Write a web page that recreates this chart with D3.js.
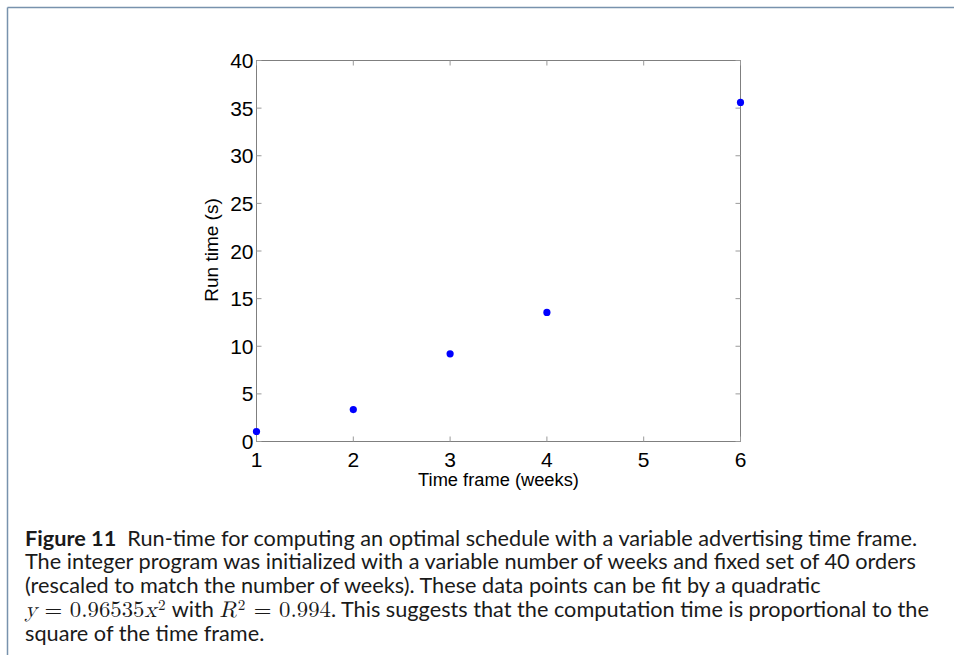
<!DOCTYPE html>
<html><head><meta charset="utf-8">
<script src="https://cdn.jsdelivr.net/npm/d3@7"></script>
<style>
html,body{margin:0;padding:0;background:#fff;}
svg{display:block;}
</style></head>
<body>
<svg id="c" width="954" height="655"></svg>
<script>
const weeks = [1, 2, 3, 4, 6];
const runTime = [1.05, 3.35, 9.2, 13.55, 35.6];
const xTicks = [1, 2, 3, 4, 5, 6];
const yTicks = [0, 5, 10, 15, 20, 25, 30, 35, 40];
const xLabel = "Time frame (weeks)";
const yLabel = "Run time (s)";

const svg = d3.select("#c");
// page frame
svg.append("line").attr("x1",7.5).attr("x2",954).attr("y1",7.5).attr("y2",7.5).attr("stroke","#7892ad").attr("stroke-width",1.5);
svg.append("line").attr("x1",7.5).attr("x2",7.5).attr("y1",7.5).attr("y2",655).attr("stroke","#7892ad").attr("stroke-width",1.5);

const L=256.5, R=740.5, T=60.5, B=441.5;
const x = d3.scaleLinear().domain([1,6]).range([L,R]);
const y = d3.scaleLinear().domain([0,40]).range([B,T]);

const g = svg.append("g");
g.append("rect").attr("x",L).attr("y",T).attr("width",R-L).attr("height",B-T).attr("fill","none").attr("stroke","#7f7f7f").attr("stroke-width",1);

const tl=5;
g.selectAll(".xtb").data(xTicks).join("line").attr("x1",d=>x(d)).attr("x2",d=>x(d)).attr("y1",B).attr("y2",B-tl).attr("stroke","#9a9a9a");
g.selectAll(".xtt").data(xTicks).join("line").attr("x1",d=>x(d)).attr("x2",d=>x(d)).attr("y1",T).attr("y2",T+tl).attr("stroke","#9a9a9a");
g.selectAll(".ytl").data(yTicks).join("line").attr("y1",d=>y(d)).attr("y2",d=>y(d)).attr("x1",L).attr("x2",L+tl).attr("stroke","#9a9a9a");
g.selectAll(".ytr").data(yTicks).join("line").attr("y1",d=>y(d)).attr("y2",d=>y(d)).attr("x1",R).attr("x2",R-tl).attr("stroke","#9a9a9a");

const tf = "Liberation Sans, Arial, sans-serif";
g.selectAll(".xl").data(xTicks).join("text").attr("x",d=>x(d)).attr("y",B+25.5).attr("text-anchor","middle")
  .attr("font-family",tf).attr("font-size",21).attr("fill","#000").text(d=>d);
g.selectAll(".yl").data(yTicks).join("text").attr("x",L-3).attr("y",d=>y(d)+7.5).attr("text-anchor","end")
  .attr("font-family",tf).attr("font-size",21).attr("fill","#000").text(d=>d);

svg.append("text").attr("x",(L+R)/2).attr("y",486).attr("text-anchor","middle").attr("font-family",tf).attr("font-size",18.3).text(xLabel);
svg.append("text").attr("transform",`translate(218,250) rotate(-90)`).attr("text-anchor","middle").attr("font-family",tf).attr("font-size",19).text(yLabel);

g.selectAll("circle").data(weeks.map((w,i)=>[w,runTime[i]])).join("circle")
  .attr("cx",d=>x(d[0])).attr("cy",d=>y(d[1])).attr("r",3.6).attr("fill","#0000ff");

// caption
const cf = "Lato, 'Open Sans', sans-serif";
const cap = svg.append("g").attr("font-family",cf).attr("font-size",20).attr("fill","#1a1a1a");
const probe = cap.append("text").text("The integer program was initialized with a variable number of weeks and fixed set of 40 orders");
const w2 = probe.node().getComputedTextLength();
probe.remove();
const fs = 20 * 891 / w2;
cap.attr("font-size",fs);
const mf = "'Latin Modern Math','Liberation Serif', serif";
const lines = [
  [{t:"Figure 11",w:"bold"},{t:"  Run-time for computing an optimal schedule with a variable advertising time frame."}],
  [{t:"The integer program was initialized with a variable number of weeks and fixed set of 40 orders"}],
  [{t:"(rescaled to match the number of weeks). These data points can be fit by a quadratic"}],
  [{t:"y",m:1},{t:" = 0.96535",m:2},{t:"x",m:1},{t:"2",m:3},{t:" with "},{t:"R",m:1},{t:"2",m:3},{t:" = 0.994",m:2},{t:". This suggests that the computation time is proportional to the"}],
  [{t:"square of the time frame."}]
];
const baselines=[545.5,569.4,593.3,617.2,641.1];
lines.forEach((ln,i)=>{
  const t = cap.append("text").attr("x",25).attr("y",baselines[i]).attr("xml:space","preserve");
  ln.forEach((s,j)=>{
    const sp = t.append("tspan").text(s.t);
    if(s.w) sp.attr("font-weight",s.w);
    if(s.m===1) sp.attr("font-family",mf).attr("font-style","italic").attr("font-size",fs*1.05);
    if(s.m===2) sp.attr("font-family",mf).attr("font-size",fs*1.05);
    if(s.m===3) sp.attr("font-family",mf).attr("font-size",fs*0.7).attr("dy",-7).attr("dx",1.5);
    if(j>0 && ln[j-1].m===3 && s.m!==3) sp.attr("dy",7).attr("dx",1);
  });
});
</script>
</body></html>
